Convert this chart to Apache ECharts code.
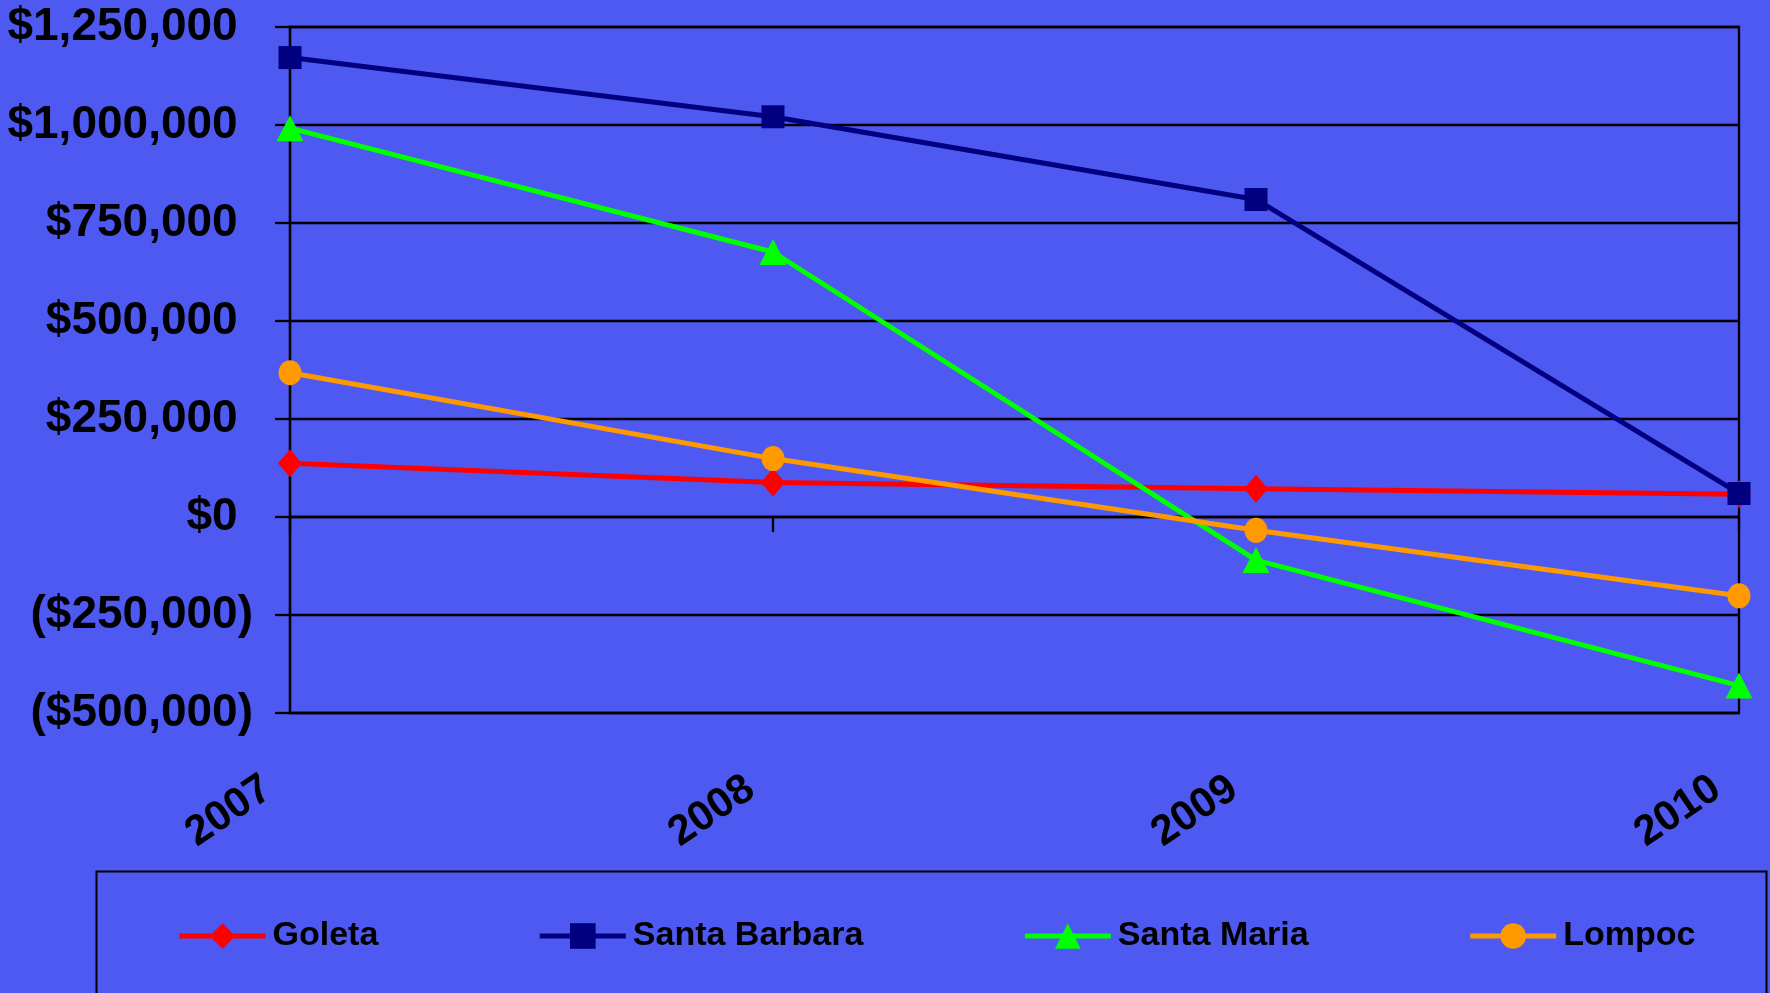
<!DOCTYPE html>
<html>
<head>
<meta charset="utf-8">
<script src="https://cdn.jsdelivr.net/npm/echarts@6/dist/echarts.min.js"></script>
<style>
html,body{margin:0;padding:0;background:#4D59F1;}
#c{width:1770px;height:993px;}
</style>
</head>
<body>
<div id="c"></div>
<script>
const years = ['2007', '2008', '2009', '2010'];
const goleta = [137000, 88000, 72000, 58000];
const santaBarbara = [1172000, 1021000, 810000, 60000];
const santaMaria = [992000, 676000, -110000, -430000];
const lompoc = [368000, 149000, -34000, -201000];
const seriesNames = ['Goleta', 'Santa Barbara', 'Santa Maria', 'Lompoc'];
const yMin = -500000, yMax = 1250000, yStep = 250000;

const FONT = 'Arial, "Liberation Sans", sans-serif';
function money(v) {
  const s = Math.abs(v).toLocaleString('en-US');
  return v < 0 ? '{a|($' + s + ')}' : '{a|$' + s + '}{h|)}';
}

const chart = echarts.init(document.getElementById('c'), null, {renderer: 'canvas'});
function mk(name, data, color, symbol, size) {
  return {
    name: name, type: 'line', data: data, xAxisIndex: 0,
    symbol: symbol, symbolSize: size, showSymbol: true,
    lineStyle: {color: color, width: 5},
    itemStyle: {color: color},
    emphasis: {disabled: true},
    animation: false
  };
}
chart.setOption({
  backgroundColor: '#4D59F1',
  animation: false,
  textStyle: {fontFamily: FONT},
  grid: {left: 290, right: 31, top: 27, bottom: 280, show: true, borderColor: '#000', borderWidth: 2.3, backgroundColor: 'transparent', containLabel: false},
  graphic: [{
    type: 'rect', left: 94, top: 869,
    shape: {width: 1670, height: 140},
    style: {fill: 'none', stroke: '#000', lineWidth: 2}
  }],
  legend: {
    left: 172, top: 914,
    itemWidth: 86, itemHeight: 32, itemGap: 159,
    lineStyle: {width: 5},
    textStyle: {fontSize: 34, fontWeight: 'bold', color: '#000', fontFamily: FONT, padding: [0, 0, 0, 2]},
    data: seriesNames
  },
  xAxis: [{
    type: 'category', data: years, boundaryGap: false, position: 'bottom',
    axisLine: {show: false, onZero: false},
    axisTick: {show: false},
    splitLine: {show: false},
    axisLabel: {rotate: 34, margin: 57, padding: [0, 27, 0, 0], fontSize: 42, fontWeight: 'bold', color: '#000', fontFamily: FONT, interval: 0}
  }, {
    type: 'category', data: years, boundaryGap: false, position: 'top',
    axisLine: {show: true, onZero: true, lineStyle: {color: '#000', width: 2.3}},
    axisTick: {show: true, inside: true, length: 15, lineStyle: {color: '#000', width: 2.3}},
    axisLabel: {show: false},
    splitLine: {show: false}
  }],
  yAxis: {
    type: 'value', min: yMin, max: yMax, interval: yStep,
    axisLine: {show: true, lineStyle: {color: '#000', width: 2.3}},
    axisTick: {show: true, length: 15, lineStyle: {color: '#000', width: 2.3}},
    splitLine: {show: true, lineStyle: {color: '#000', width: 2.3}},
    axisLabel: {
      margin: 37, formatter: money,
      rich: {
        a: {fontSize: 46, fontWeight: 'bold', color: '#000', fontFamily: FONT},
        h: {fontSize: 46, fontWeight: 'bold', color: 'transparent', fontFamily: FONT}
      }
    }
  },
  series: [
    mk(seriesNames[0], goleta, '#FF0000', 'diamond', [24, 28]),
    mk(seriesNames[1], santaBarbara, '#000080', 'rect', 23),
    mk(seriesNames[2], santaMaria, '#00FF00', 'triangle', [27, 26]),
    mk(seriesNames[3], lompoc, '#FF9900', 'circle', [23, 25])
  ]
});
</script>
</body>
</html>
